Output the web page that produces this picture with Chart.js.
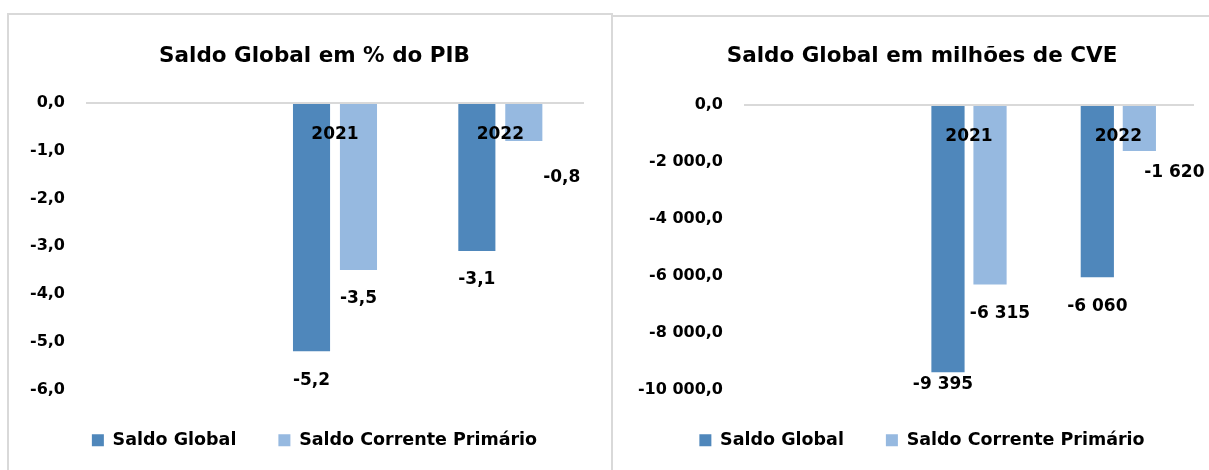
<!DOCTYPE html>
<html>
<head>
<meta charset="utf-8">
<script src="https://cdn.jsdelivr.net/npm/chart.js@4"></script>
<style>
  html, body { margin: 0; padding: 0; background: #fff; width: 1209px; height: 470px; overflow: hidden; }
  .panel { position: absolute; border: 2px solid #d9d9d9; border-bottom: none; box-sizing: content-box; }
  #p-left  { left: 7px;   top: 13px; width: 602px; height: 470px; }
  #p-right { left: 611px; top: 15px; width: 600px; height: 470px; border-right: none; }
  canvas { display: block; }
</style>
</head>
<body>
<div class="panel" id="p-left"><canvas id="chartPct"></canvas></div>
<div class="panel" id="p-right"><canvas id="chartCve"></canvas></div>
<script>
// ── Data ────────────────────────────────────────────────────────────────────
const categories   = ['', '2021', '2022'];
const seriesNames  = ['Saldo Global', 'Saldo Corrente Primário'];

const globalPct    = [null, -5.2, -3.1];
const correntePct  = [null, -3.5, -0.8];

const globalCve    = [null, -9395, -6060];
const correnteCve  = [null, -6315, -1620];

const pctTicks = { min: -6, max: 0, step: 1 };
const cveTicks = { min: -10000, max: 0, step: 2000 };

const DARK  = '#4f87bb';
const LIGHT = '#96b9e0';
const FONT  = "'DejaVu Sans', sans-serif";

// number like "-9 395" or "-2 000,0"
function fmtNum(v, dec) {
  const parts = Math.abs(v).toFixed(dec).split('.');
  const int = parts[0].replace(/\B(?=(\d{3})+(?!\d))/g, ' ');
  return (v < 0 ? '-' : '') + int + (parts[1] ? ',' + parts[1] : '');
}

// ── Value labels under the bar ends ────────────────────────────────────────
const valueLabels = {
  id: 'valueLabels',
  afterDatasetsDraw(chart, args, opts) {
    const ctx = chart.ctx;
    ctx.save();
    ctx.font = 'bold 17px ' + FONT;
    ctx.fillStyle = '#000';
    ctx.textAlign = 'center';
    ctx.textBaseline = 'middle';
    chart.data.datasets.forEach((ds, di) => {
      chart.getDatasetMeta(di).data.forEach((bar, i) => {
        const v = ds.data[i];
        if (v == null) return;
        const n = (opts.nudge[di] && opts.nudge[di][i]) || [0, 0];
        ctx.fillText(opts.format(v), bar.x + n[0], bar.y + opts.offset + n[1]);
      });
    });
    ctx.restore();
  }
};

function makeChart(id, cfg) {
  const canvas = document.getElementById(id);
  canvas.width = cfg.width;
  canvas.height = 470;
  canvas.style.width = cfg.width + 'px';
  canvas.style.height = '470px';

  return new Chart(canvas, {
    type: 'bar',
    data: {
      labels: categories,
      datasets: [
        { label: seriesNames[0], data: cfg.series[0], backgroundColor: DARK },
        { label: seriesNames[1], data: cfg.series[1], backgroundColor: LIGHT },
      ]
    },
    plugins: [valueLabels],
    options: {
      responsive: false,
      animation: false,
      events: [],
      categoryPercentage: cfg.catPct,
      barPercentage: 0.79,
      layout: { padding: { left: 0, right: cfg.padRight, top: 0, bottom: cfg.padBottom } },
      plugins: {
        title: {
          display: true,
          text: cfg.title,
          color: '#000',
          font: { family: FONT, size: 21.5, weight: 'bold' },
          padding: { top: cfg.titleTop, bottom: cfg.titleBottom },
        },
        legend: {
          position: 'bottom',
          labels: {
            color: '#000',
            boxWidth: 12,
            boxHeight: 12,
            padding: 42,
            font: { family: FONT, size: 17.5, weight: 'bold' },
          }
        },
        tooltip: { enabled: false },
        valueLabels: { offset: 29, nudge: cfg.nudge, format: cfg.valueFormat },
      },
      scales: {
        x: {
          position: { y: 0 },
          grid: { display: false, drawTicks: false },
          border: { display: true, color: '#d9d9d9', width: 2, z: 1 },
          ticks: { color: '#000', padding: 22, z: 1, font: { family: FONT, size: 17, weight: 'bold' } },
          afterFit: s => { s.height = 0; },
        },
        y: {
          min: cfg.ticks.min,
          max: cfg.ticks.max,
          grid: { display: false, drawTicks: false },
          border: { display: false },
          ticks: {
            stepSize: cfg.ticks.step,
            color: '#000',
            padding: cfg.tickPad,
            font: { family: FONT, size: 16, weight: 'bold' },
            callback: v => fmtNum(v, 1),
          },
          afterFit: s => { s.width = cfg.axisWidth; },
        },
        // empty right-hand margin so title and legend sit centred on the panel
        spacer: {
          type: 'linear',
          position: 'right',
          grid: { display: false, drawTicks: false },
          border: { display: false },
          ticks: { display: false },
          afterFit: s => { s.width = cfg.rightGap; },
        }
      }
    }
  });
}

// ── Left: % do PIB ──────────────────────────────────────────────────────────
makeChart('chartPct', {
  width: 611,
  title: 'Saldo Global em % do PIB',
  series: [globalPct, correntePct],
  ticks: pctTicks,
  catPct: 0.568,
  axisWidth: 78,
  tickPad: 22,
  padRight: 0,
  rightGap: 37,
  padBottom: 26,
  titleTop: 29,
  titleBottom: 33,
  valueFormat: v => fmtNum(v, 1),
  nudge: [[], [null, null, [38, 8]]],
});

// ── Right: milhões de CVE ───────────────────────────────────────────────────
makeChart('chartCve', {
  width: 618,
  title: 'Saldo Global em milhões de CVE',
  series: [globalCve, correnteCve],
  ticks: cveTicks,
  catPct: 0.563,
  axisWidth: 132,
  tickPad: 22,
  padRight: 0,
  rightGap: 38,
  padBottom: 28,
  titleTop: 27,
  titleBottom: 35,
  valueFormat: v => fmtNum(v, 0),
  nudge: [[null, [-5, -17]], [null, [10, 0], [35, -7]]],
});
</script>
</body>
</html>
